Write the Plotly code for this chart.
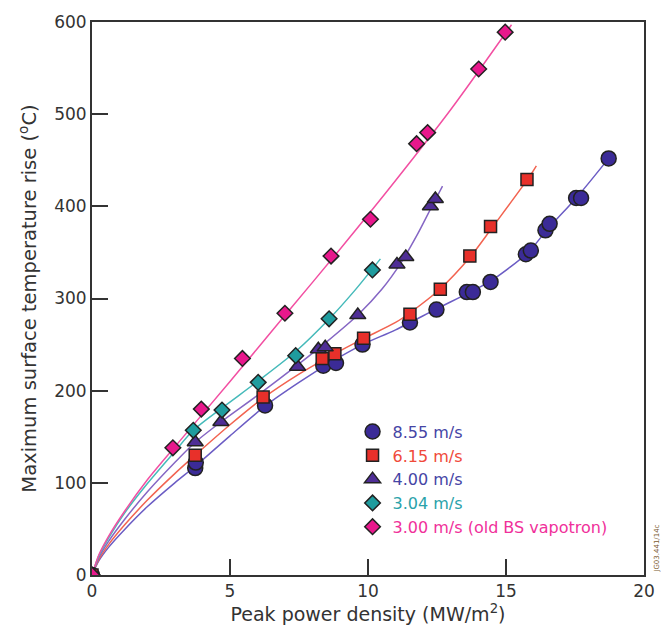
import plotly.graph_objects as go

# ---- measured points (x: MW/m^2, y: degC) ----
x_855 = [0, 3.74, 3.76, 6.27, 8.38, 8.84, 9.8, 11.52, 12.48, 13.58, 13.8, 14.44, 15.72, 15.9, 16.43, 16.58, 17.54, 17.72, 18.72]
y_855 = [0, 116, 122, 184, 227, 230, 250, 274, 288, 307, 307, 318, 348, 352, 374, 381, 409, 409, 452]

x_615 = [0, 3.74, 6.2, 8.34, 8.8, 9.84, 11.52, 12.62, 13.69, 14.44, 15.76]
y_615 = [0, 130, 193, 235, 240, 257, 283, 310, 346, 378, 429]

x_400 = [0, 3.74, 4.67, 7.45, 8.2, 8.45, 9.63, 11.05, 11.37, 12.26, 12.44]
y_400 = [0, 144, 166, 226, 245, 247, 282, 337, 345, 400, 408]

x_304 = [0, 3.67, 4.71, 6.02, 7.38, 8.59, 10.16]
y_304 = [0, 157, 179, 209, 238, 278, 331]

x_300 = [0, 2.93, 3.96, 5.45, 6.99, 8.66, 10.09, 11.76, 12.16, 14.01, 14.97]
y_300 = [0, 138, 180, 235, 284, 346, 386, 468, 480, 549, 589]

# ---- fitted curves, nodes ----
fx_855 = [0, 0.25, 0.6, 1.2, 2, 3, 3.74, 5, 6.3, 7.5, 8.6, 9.8, 11, 12.5, 13.7, 14.5, 15.8, 16.5, 17.6, 18.8]
fy_855 = [0, 15.5, 30, 50, 74, 100, 118, 151, 184, 209, 230, 250, 266, 289, 307, 320, 350, 375, 411, 455]

fx_615 = [0, 0.25, 0.6, 1.2, 2, 3, 3.74, 5, 6.2, 7.5, 8.6, 9.8, 11, 11.5, 12.6, 13.7, 14.5, 15.8, 16.1]
fy_615 = [0, 17, 33, 55, 81, 110, 130, 163, 192, 218, 237, 256, 274, 284, 310, 345, 377, 430, 444]

fx_400 = [0, 0.25, 0.6, 1.2, 2, 3, 3.74, 4.67, 6, 7.45, 8.5, 9.66, 10.5, 11.2, 11.8, 12.35, 12.7]
fy_400 = [0, 19, 36.5, 61, 90, 122, 144, 166, 195, 228, 253, 283, 310, 339, 370, 402, 422]

fx_304 = [0, 0.25, 0.6, 1.2, 2, 3, 3.67, 4.7, 6, 7.4, 8.6, 9.5, 10.45]
fy_304 = [0, 21, 40, 68, 99, 134, 157, 181, 210, 243, 278, 308, 343]

fx_300 = [0, 0.25, 0.6, 1.2, 2, 3, 5, 7, 9, 11, 13, 15.2]
fy_300 = [0, 22, 42, 70, 103, 139, 210, 282, 354, 428, 505, 597]

x_ticks = [0, 5, 10, 15, 20]
y_ticks = [0, 100, 200, 300, 400, 500, 600]

FONT = "DejaVu Sans"

series = [
    ("8.55 m/s", x_855, y_855, fx_855, fy_855, "circle", 15, "#3b2b97", "#6b5cc4", "#4545a5"),
    ("6.15 m/s", x_615, y_615, fx_615, fy_615, "square", 12, "#e8302a", "#f26350", "#f04a3a"),
    ("4.00 m/s", x_400, y_400, fx_400, fy_400, "triangle-up", 14, "#4f2e96", "#8566c4", "#4545a5"),
    ("3.04 m/s", x_304, y_304, fx_304, fy_304, "diamond", 12, "#1f9c9e", "#45baba", "#2aa2aa"),
    ("3.00 m/s (old BS vapotron)", x_300, y_300, fx_300, fy_300, "diamond", 12, "#e8188c", "#f24fa2", "#f0309a"),
]

fig = go.Figure()
for name, xs, ys, fx, fy, sym, size, mcol, lcol, tcol in series:
    fig.add_trace(go.Scatter(x=fx, y=fy, mode="lines", line=dict(color=lcol, width=1.5, shape="spline", smoothing=0.8),
                             showlegend=False, hoverinfo="skip"))
for name, xs, ys, fx, fy, sym, size, mcol, lcol, tcol in series:
    fig.add_trace(go.Scatter(x=xs, y=ys, mode="markers",
                             name='<span style="color:%s">%s</span>' % (tcol, name),
                             marker=dict(symbol=sym, size=size, color=mcol, line=dict(color="#222222", width=1.5))))

axis_common = dict(showline=True, linecolor="#333333", linewidth=2, mirror=True, ticks="inside",
                   ticklen=16, tickwidth=2, tickcolor="#333333", showgrid=False, zeroline=False,
                   tickfont=dict(size=17, color="#333333", family=FONT))

fig.update_layout(
    width=667, height=634,
    margin=dict(l=92, r=14, t=20, b=59),
    paper_bgcolor="white", plot_bgcolor="white",
    font=dict(family=FONT, color="#333333"),
    xaxis=dict(range=[0, 20], tickvals=x_ticks,
               title=dict(text="Peak power density (MW/m<sup>2</sup>)", font=dict(size=19, family=FONT), standoff=5),
               **axis_common),
    yaxis=dict(range=[0, 600], tickvals=y_ticks,
               title=dict(text="Maximum surface temperature rise (<sup>o</sup>C)", font=dict(size=19.5, family=FONT), standoff=12),
               **axis_common),
    legend=dict(x=0.472, y=0.29, xanchor="left", yanchor="top", bgcolor="rgba(0,0,0,0)",
                font=dict(size=16, family=FONT), itemsizing="trace", tracegroupgap=0),
    annotations=[dict(text="JG03.441/14c", x=1.012, y=0.0, xref="paper", yref="paper", xanchor="left", yanchor="bottom",
                      textangle=-90, showarrow=False, font=dict(size=7, color="#7a5a30"))],
)

fig.write_html("out.html")
